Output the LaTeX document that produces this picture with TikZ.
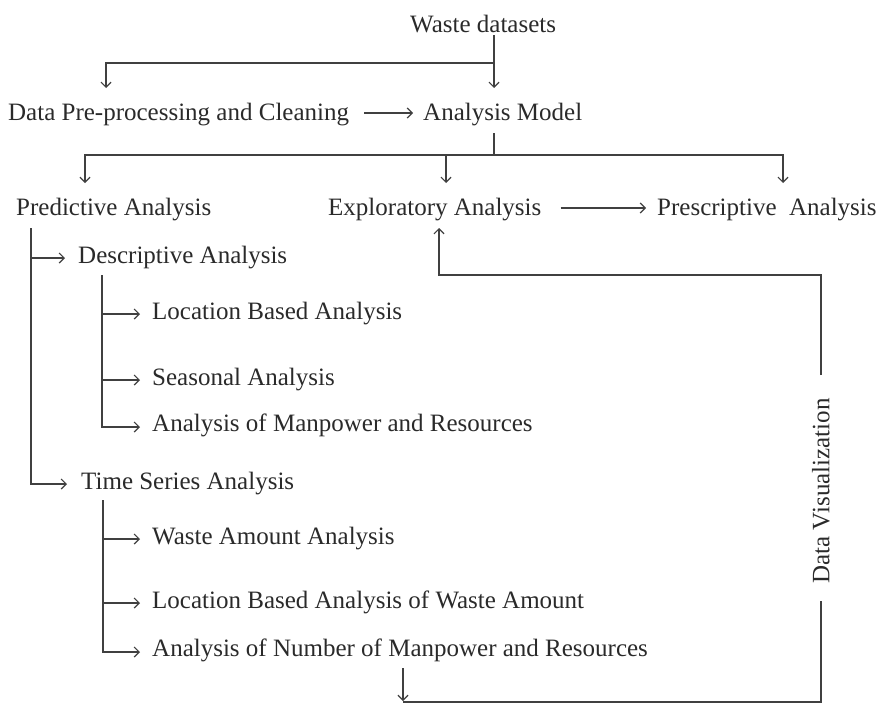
\documentclass[tikz,border=0pt]{standalone}
\usepackage{fontspec}
\setmainfont{Liberation Serif}
\usetikzlibrary{arrows.meta,calc}
\definecolor{inkline}{HTML}{404040}
\definecolor{inktext}{HTML}{2A2A2A}
\begin{document}
\begin{tikzpicture}[x=1pt,y=-1pt,
  lbl/.style={anchor=base west,inner sep=0pt,text=inktext,
    font=\fontsize{25}{30}\selectfont},
  link/.style={draw=inkline,line width=1.3pt},
  arr/.style={link,-{Straight Barb[length=5pt,width=10pt,line width=1.2pt]}}]
\useasboundingbox (0,0) rectangle (880,704);

% ---------- labels ----------
\node[lbl] (waste) at (410,32)  {Waste datasets};
\node[lbl] (prep)  at (8,120)   {Data Pre-processing and Cleaning};
\node[lbl] (model) at (423,120) {Analysis Model};
\node[lbl] (pred)  at (16,215)  {Predictive Analysis};
\node[lbl] (expl)  at (328,215) {Exploratory Analysis};
\node[lbl] (presc) at (657,215) {Prescriptive\ \ Analysis};
\node[lbl] (desc)  at (78,263)  {Descriptive Analysis};
\node[lbl] (loc)   at (152,319) {Location Based Analysis};
\node[lbl] (seas)  at (152,385) {Seasonal Analysis};
\node[lbl] (manp)  at (152,431) {Analysis of Manpower and Resources};
\node[lbl] (ts)    at (81,489)  {Time Series Analysis};
\node[lbl] (wam)   at (152,544) {Waste Amount Analysis};
\node[lbl] (lbw)   at (152,608) {Location Based Analysis of Waste Amount};
\node[lbl] (num)   at (152,656) {Analysis of Number of Manpower and Resources};
\node[inner sep=0pt,text=inktext,font=\fontsize{25}{30}\selectfont,
      rotate=90] (dv) at (821,491) {Data Visualization};

% ---------- dataset split ----------
\coordinate (wd)  at (494,35);
\coordinate (wj)  at (494,63);
\coordinate (min) at (494,88);
\coordinate (pin) at (106,88);
\draw[arr] (wd) -- (min);
\draw[arr] (wj) -| (pin);

% ---------- cleaning to model ----------
\draw[arr] ($(prep.base east)+(15,-7)$) -- ($(model.base west)+(-10,-7)$);

% ---------- model to the three analyses ----------
\coordinate (m0)  at (494,133);
\coordinate (bus) at (494,155);
\coordinate (pa)  at (85,183);
\coordinate (ea)  at (446,183);
\coordinate (ra)  at (783,183);
\draw[link] (m0) -- (bus);
\draw[arr] (bus) -| (pa);
\draw[arr] (bus) -| (ra);
\draw[arr] (ea |- bus) -- (ea);
\draw[arr] ($(expl.base east)+(19,-7)$) -- ($(presc.base west)+(-11,-7)$);

% ---------- predictive branch ----------
\coordinate (p0)     at (31,228);
\coordinate (descin) at ($(desc.base west)+(-13,-5)$);
\coordinate (tsin)   at ($(ts.base west)+(-14,-5)$);
\draw[arr] (p0) |- (tsin);
\draw[arr] (p0 |- descin) -- (descin);

% ---------- descriptive sub-branch ----------
\coordinate (d0)    at (102,275);
\coordinate (locin) at ($(loc.base west)+(-12,-5)$);
\coordinate (seain) at ($(seas.base west)+(-12,-5)$);
\coordinate (manin) at ($(manp.base west)+(-12,-4)$);
\draw[arr] (d0) |- (manin);
\draw[arr] (d0 |- locin) -- (locin);
\draw[arr] (d0 |- seain) -- (seain);

% ---------- time series sub-branch ----------
\coordinate (t0)    at (103,500);
\coordinate (wamin) at ($(wam.base west)+(-12,-5)$);
\coordinate (lbwin) at ($(lbw.base west)+(-12,-5)$);
\coordinate (numin) at ($(num.base west)+(-12,-4)$);
\draw[arr] (t0) |- (numin);
\draw[arr] (t0 |- wamin) -- (wamin);
\draw[arr] (t0 |- lbwin) -- (lbwin);

% ---------- visualization feedback loop ----------
\coordinate (fb0)  at (403,668);
\coordinate (fb1)  at (403,701);
\coordinate (fbc)  at (403,702);
\coordinate (dvlo) at ($(dv.west)+(0,17)$);
\coordinate (dvhi) at ($(dv.east)+(0,-23)$);
\coordinate (ebd)  at (439,275);
\coordinate (ein)  at (439,228);
\draw[arr] (fb0) -- (fb1);
\draw[link] (fbc) -| (dvlo);
\draw[arr] (dvhi) |- (ebd) -- (ein);
\end{tikzpicture}
\end{document}
